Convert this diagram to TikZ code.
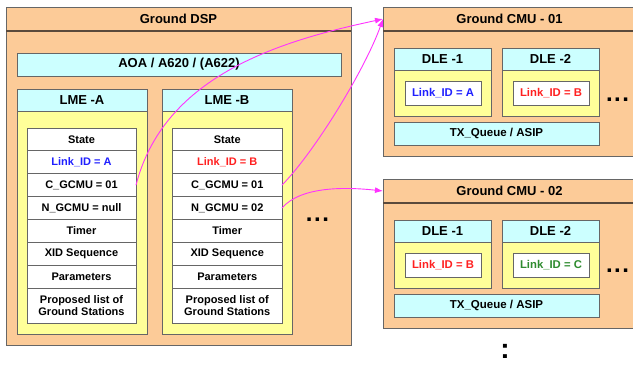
\documentclass[tikz,border=0pt]{standalone}
\usepackage{fontspec}
\setmainfont{Liberation Sans}
\usetikzlibrary{arrows.meta}
\definecolor{peach}{HTML}{FCCB98}
\definecolor{cyanbox}{HTML}{CCFFFF}
\definecolor{yel}{HTML}{FFFF99}
\definecolor{bord}{HTML}{666666}
\definecolor{sepc}{HTML}{5A4A3C}
\definecolor{mag}{HTML}{FF33FF}
\definecolor{lblue}{HTML}{2020FF}
\definecolor{lred}{HTML}{FF2020}
\definecolor{lgreen}{HTML}{2E8B2E}
\tikzset{
  shd/.style={preaction={fill=black!28, transform canvas={shift={(1.3pt,-1.3pt)}}}},
  rbox/.style={draw=bord, line width=0.8pt, inner sep=0pt, outer sep=0pt, anchor=north west},
  outerbox/.style={rbox, fill=peach, shd},
  hdr/.style={inner sep=0pt, outer sep=0pt, anchor=north west, font=\bfseries\fontsize{13}{15}\selectfont},
  cyanhdr/.style={rbox, fill=cyanbox, font=\bfseries\fontsize{13}{15}\selectfont},
  yelbody/.style={rbox, fill=yel, shd},
  row/.style={rbox, fill=white, font=\bfseries\fontsize{11}{12.5}\selectfont, align=center},
  tblbg/.style={rbox, fill=white, shd},
  linkbox/.style={rbox, fill=white, shd, font=\bfseries\fontsize{11.3}{13}\selectfont},
  txbox/.style={rbox, fill=cyanbox, shd, font=\bfseries\fontsize{11.5}{13}\selectfont},
  sepline/.style={draw=sepc, line width=1.8pt},
  arr/.style={draw=mag, line width=0.9pt, -{Latex[length=8pt,width=6pt]}},
  dots/.style={inner sep=0pt, anchor=base, font=\bfseries\fontsize{24}{24}\selectfont},
  vdots/.style={inner sep=0pt, anchor=base, font=\bfseries\fontsize{28}{28}\selectfont}
}
\begin{document}
\begin{tikzpicture}[x=1pt,y=-1pt]
\useasboundingbox (0,0) rectangle (633,365);
\clip (0,0) rectangle (633,365);
\fill[white] (0,0) rectangle (633,365);

% ---------------- Ground DSP ----------------
\node[outerbox, minimum width=345pt, minimum height=338pt] (dsp) at (6,7) {};
\node[hdr, minimum width=345pt, minimum height=24pt] (dsph) at (6,7) {Ground DSP};
\draw[sepline] (dsph.south west) -- (dsph.south east);
\node[cyanhdr, minimum width=324pt, minimum height=23pt, shd] (aoa) at (17,53) {AOA / A620 / (A622)};

% LME-A
\node[yelbody, minimum width=130pt, minimum height=245pt] (lmea) at (17,89) {};
\node[cyanhdr, minimum width=130pt, minimum height=22pt] (lmeah) at (17,89) {LME -A};
\node[tblbg, minimum width=109pt, minimum height=195pt] (tbla) at (27,128) {};
\node[row, minimum width=109pt, minimum height=22.86pt] (a1) at (27,128) {State};
\node[row, minimum width=109pt, minimum height=22.86pt] (a2) at (27,150.86) {\color{lblue}Link\_ID = A};
\node[row, minimum width=109pt, minimum height=22.86pt] (a3) at (27,173.71) {C\_GCMU = 01};
\node[row, minimum width=109pt, minimum height=22.86pt] (a4) at (27,196.57) {N\_GCMU = null};
\node[row, minimum width=109pt, minimum height=22.86pt] (a5) at (27,219.43) {Timer};
\node[row, minimum width=109pt, minimum height=22.86pt] (a6) at (27,242.29) {XID Sequence};
\node[row, minimum width=109pt, minimum height=22.86pt] (a7) at (27,265.14) {Parameters};
\node[row, minimum width=109pt, minimum height=35pt] (a8) at (27,288) {Proposed list of\\Ground Stations};

% LME-B
\node[yelbody, minimum width=130pt, minimum height=245pt] (lmeb) at (162,89) {};
\node[cyanhdr, minimum width=130pt, minimum height=22pt] (lmebh) at (162,89) {LME -B};
\node[tblbg, minimum width=109.5pt, minimum height=195pt] (tblb) at (172.5,128) {};
\node[row, minimum width=109.5pt, minimum height=22.86pt] (b1) at (172.5,128) {State};
\node[row, minimum width=109.5pt, minimum height=22.86pt] (b2) at (172.5,150.86) {\color{lred}Link\_ID = B};
\node[row, minimum width=109.5pt, minimum height=22.86pt] (b3) at (172.5,173.71) {C\_GCMU = 01};
\node[row, minimum width=109.5pt, minimum height=22.86pt] (b4) at (172.5,196.57) {N\_GCMU = 02};
\node[row, minimum width=109.5pt, minimum height=22.86pt] (b5) at (172.5,219.43) {Timer};
\node[row, minimum width=109.5pt, minimum height=22.86pt] (b6) at (172.5,242.29) {XID Sequence};
\node[row, minimum width=109.5pt, minimum height=22.86pt] (b7) at (172.5,265.14) {Parameters};
\node[row, minimum width=109.5pt, minimum height=35pt] (b8) at (172.5,288) {Proposed list of\\Ground Stations};

\node[dots] (dspdots) at (317.5,221.5) {.\hspace{1.5pt}.\hspace{1.5pt}.};

% ---------------- Ground CMU - 01 ----------------
\node[outerbox, minimum width=253pt, minimum height=149pt] (cmu1) at (383,7) {};
\node[hdr, minimum width=253pt, minimum height=24pt] (cmu1h) at (383,7) {Ground CMU - 01};
\draw[sepline] (cmu1h.south west) -- (cmu1h.south east);
\node[yelbody, minimum width=97pt, minimum height=68pt] (d11) at (394,48) {};
\node[cyanhdr, minimum width=97pt, minimum height=22pt] (d11h) at (394,48) {DLE -1};
\node[linkbox, minimum width=76pt, minimum height=24pt] (l11) at (405,81) {\color{lblue}Link\_ID = A};
\node[yelbody, minimum width=97pt, minimum height=68pt] (d12) at (502,48) {};
\node[cyanhdr, minimum width=97pt, minimum height=22pt] (d12h) at (502,48) {DLE -2};
\node[linkbox, minimum width=76pt, minimum height=24pt] (l12) at (513,81) {\color{lred}Link\_ID = B};
\node[txbox, minimum width=205pt, minimum height=23pt] (tx1) at (394,122) {TX\_Queue / ASIP};
\node[dots] (c1dots) at (617.5,101.5) {.\hspace{1.5pt}.\hspace{1.5pt}.};

% ---------------- Ground CMU - 02 ----------------
\node[outerbox, minimum width=253pt, minimum height=149pt] (cmu2) at (383,179) {};
\node[hdr, minimum width=253pt, minimum height=24pt] (cmu2h) at (383,179) {Ground CMU - 02};
\draw[sepline] (cmu2h.south west) -- (cmu2h.south east);
\node[yelbody, minimum width=97pt, minimum height=68pt] (d21) at (394,220) {};
\node[cyanhdr, minimum width=97pt, minimum height=22pt] (d21h) at (394,220) {DLE -1};
\node[linkbox, minimum width=76pt, minimum height=24pt] (l21) at (405,253) {\color{lred}Link\_ID = B};
\node[yelbody, minimum width=97pt, minimum height=68pt] (d22) at (502,220) {};
\node[cyanhdr, minimum width=97pt, minimum height=22pt] (d22h) at (502,220) {DLE -2};
\node[linkbox, minimum width=76pt, minimum height=24pt] (l22) at (513,253) {\color{lgreen}Link\_ID = C};
\node[txbox, minimum width=205pt, minimum height=23pt] (tx2) at (394,294) {TX\_Queue / ASIP};
\node[dots] (c2dots) at (617.5,272.5) {.\hspace{1.5pt}.\hspace{1.5pt}.};

\node[vdots] (vd) at (505,358) {:};

% ---------------- connectors ----------------
\draw[arr] (a3.east) .. controls (163.5,78) and (274,42) .. (cmu1h.west);
\draw[arr] (b3.east) .. controls (317,149) and (366,67) .. (cmu1h.west);
\draw[arr] (b4.east) .. controls (301,186) and (346,187) .. (cmu2h.west);
\end{tikzpicture}
\end{document}
